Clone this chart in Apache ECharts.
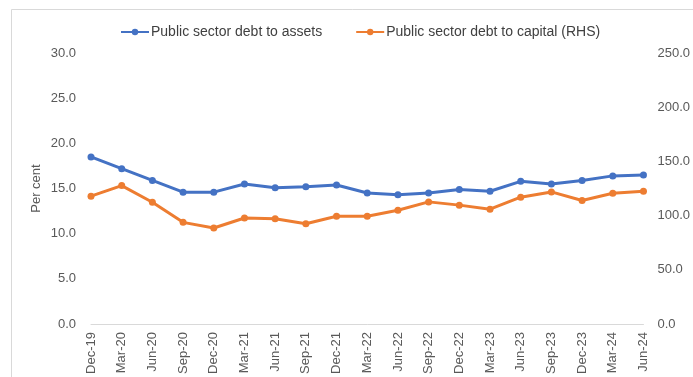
<!DOCTYPE html>
<html>
<head>
<meta charset="utf-8">
<script src="https://cdn.jsdelivr.net/npm/echarts@6/dist/echarts.min.js"></script>
<style>
  html, body { margin: 0; padding: 0; background: #fff; }
  #chart { width: 693px; height: 377px; }
</style>
</head>
<body>
<div id="chart"></div>
<script>
// Quarterly periods
const quarters = [
  'Dec-19', 'Mar-20', 'Jun-20', 'Sep-20', 'Dec-20', 'Mar-21', 'Jun-21', 'Sep-21', 'Dec-21',
  'Mar-22', 'Jun-22', 'Sep-22', 'Dec-22', 'Mar-23', 'Jun-23', 'Sep-23', 'Dec-23', 'Mar-24', 'Jun-24'
];

// Public sector debt to assets (per cent, left axis)
const debtToAssets = [
  18.5, 17.2, 15.9, 14.6, 14.6, 15.5, 15.1, 15.2, 15.4,
  14.5, 14.3, 14.5, 14.9, 14.7, 15.8, 15.5, 15.9, 16.4, 16.5
];

// Public sector debt to capital (per cent, right axis)
const debtToCapital = [
  118.0, 127.7, 112.4, 93.8, 88.6, 97.8, 97.1, 92.6, 99.4,
  99.4, 105.0, 112.7, 109.7, 106.0, 117.0, 121.9, 114.0, 120.7, 122.5
];

const leftTicks = { min: 0, max: 30, interval: 5 };
const rightTicks = { min: 0, max: 250, interval: 50 };

const textColor = '#595959';
const fontFamily = '"Liberation Sans", Arial, sans-serif';

const chart = echarts.init(document.getElementById('chart'), null, { renderer: 'canvas' });

chart.setOption({
  backgroundColor: '#ffffff',
  animation: false,
  textStyle: { fontFamily: fontFamily, color: textColor },
  graphic: [{
    type: 'rect',
    shape: { x: 11.5, y: 9.5, width: 700, height: 400 },
    style: { fill: 'none', stroke: '#d9d9d9', lineWidth: 1 },
    silent: true,
    z: -1
  }],
  legend: {
    top: 20,
    left: 115,
    itemWidth: 28,
    itemHeight: 8,
    itemGap: 33,
    textStyle: {
      fontSize: 14,
      color: '#404040',
      fontFamily: fontFamily,
      padding: [0, 0, 0, -3]
    },
    data: ['Public sector debt to assets', 'Public sector debt to capital (RHS)']
  },
  grid: { left: 91, right: 48, top: 53, bottom: 52 },
  xAxis: {
    type: 'category',
    data: quarters,
    boundaryGap: false,
    axisLine: { show: true, lineStyle: { color: '#d9d9d9', width: 1 } },
    axisTick: { show: false },
    axisLabel: {
      rotate: 90,
      margin: 8,
      fontSize: 13,
      color: textColor,
      fontFamily: fontFamily,
      interval: 0
    },
    splitLine: { show: false }
  },
  yAxis: [{
    type: 'value',
    min: leftTicks.min,
    max: leftTicks.max,
    interval: leftTicks.interval,
    name: 'Per cent',
    nameLocation: 'middle',
    nameRotate: 90,
    nameGap: 48,
    nameMoveOverlap: false,
    nameTextStyle: { fontSize: 13, color: textColor, fontFamily: fontFamily },
    axisLine: { show: false },
    axisTick: { show: false },
    splitLine: { show: false },
    axisLabel: {
      margin: 15,
      fontSize: 13,
      color: textColor,
      fontFamily: fontFamily,
      formatter: v => v.toFixed(1)
    }
  }, {
    type: 'value',
    min: rightTicks.min,
    max: rightTicks.max,
    interval: rightTicks.interval,
    position: 'right',
    axisLine: { show: false },
    axisTick: { show: false },
    splitLine: { show: false },
    axisLabel: {
      margin: 14,
      fontSize: 13,
      color: textColor,
      fontFamily: fontFamily,
      formatter: v => v.toFixed(1)
    }
  }],
  series: [{
    name: 'Public sector debt to assets',
    type: 'line',
    yAxisIndex: 0,
    data: debtToAssets,
    symbol: 'circle',
    symbolSize: 7,
    lineStyle: { color: '#4472C4', width: 3 },
    itemStyle: { color: '#4472C4' }
  }, {
    name: 'Public sector debt to capital (RHS)',
    type: 'line',
    yAxisIndex: 1,
    data: debtToCapital,
    symbol: 'circle',
    symbolSize: 7,
    lineStyle: { color: '#ED7D31', width: 3 },
    itemStyle: { color: '#ED7D31' }
  }]
});
</script>
</body>
</html>
